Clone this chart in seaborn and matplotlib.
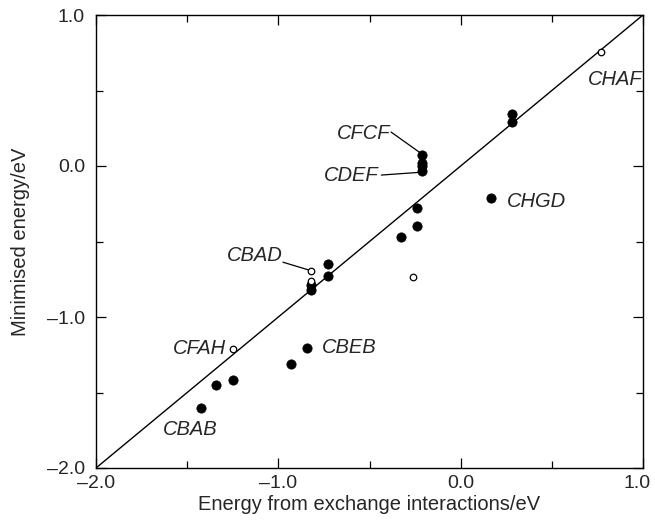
import matplotlib
matplotlib.use("Agg")
import matplotlib.pyplot as plt
import matplotlib.transforms as mtransforms
import seaborn as sns
import pandas as pd
from matplotlib.ticker import MultipleLocator, FuncFormatter

# Filled points (x: exchange-interaction energy, y: minimised energy)
filled_x = [0.28, 0.28, -0.21, -0.21, -0.21, -0.21, 0.165, -0.24, -0.24, -0.325,
            -0.73, -0.73, -0.82, -0.82, -0.845, -0.93, -1.25, -1.34, -1.425]
filled_y = [0.345, 0.29, 0.073, 0.02, 0.0, -0.035, -0.21, -0.28, -0.40, -0.47,
            -0.65, -0.73, -0.79, -0.82, -1.205, -1.31, -1.42, -1.45, -1.605]
# Open points
open_x = [0.77, -0.82, -0.82, -0.26, -1.25]
open_y = [0.757, -0.695, -0.76, -0.738, -1.213]

# Labels: text, text position (x, y), optional leader line
label_text = ["CHAF", "CFCF", "CDEF", "CHGD", "CBAD", "CFAH", "CBEB", "CBAB"]
label_x = [0.70, -0.68, -0.75, 0.255, -1.28, -1.58, -0.76, -1.635]
label_y = [0.575, 0.215, -0.06, -0.236, -0.593, -1.21, -1.2, -1.745]
leader_from = {"CFCF": (-0.382, 0.225), "CDEF": (-0.435, -0.06), "CBAD": (-0.975, -0.637)}
leader_to = {"CFCF": (-0.225, 0.09), "CDEF": (-0.225, -0.042), "CBAD": (-0.835, -0.688)}

x_ticks = [-2.0, -1.0, 0.0, 1.0]
y_ticks = [-2.0, -1.0, 0.0, 1.0]

sns.set_style("ticks")
plt.rcParams["font.family"] = ["Liberation Sans", "DejaVu Sans"]

fig = plt.figure(figsize=(6.55, 5.22), dpi=100)
ax = fig.add_axes([96 / 655, 54 / 522, 547 / 655, 453 / 522])

df_f = pd.DataFrame({"x": filled_x, "y": filled_y})
df_o = pd.DataFrame({"x": open_x, "y": open_y})

ax.axline((0, 0), slope=1, color="black", lw=1.0, zorder=1)
sns.scatterplot(data=df_f, x="x", y="y", ax=ax, color="black", s=45,
                edgecolor="black", linewidth=0.5, zorder=3)
sns.scatterplot(data=df_o, x="x", y="y", ax=ax, facecolor="white", s=22,
                edgecolor="black", linewidth=0.9, zorder=3)

for t, lx, ly in zip(label_text, label_x, label_y):
    ax.text(lx, ly, t, fontsize=14.5, style="italic", ha="left", va="center")
    if t in leader_from:
        (x0, y0), (x1, y1) = leader_from[t], leader_to[t]
        ax.plot([x0, x1], [y0, y1], color="black", lw=0.9)

fmt = FuncFormatter(lambda v, p: f"{v:.1f}".replace("-", "\u2013"))
ax.set_xlim(-2, 1)
ax.set_ylim(-2, 1)
ax.set_xticks(x_ticks)
ax.set_yticks(y_ticks)
ax.xaxis.set_minor_locator(MultipleLocator(0.5))
ax.yaxis.set_minor_locator(MultipleLocator(0.5))
ax.xaxis.set_major_formatter(fmt)
ax.yaxis.set_major_formatter(fmt)
ax.tick_params(which="both", direction="in", top=True, right=True, labelsize=14,
               width=0.9, color="black")
ax.tick_params(which="major", length=7)
ax.tick_params(which="minor", length=5)
ax.tick_params(axis="x", which="major", pad=5)
ax.tick_params(axis="y", which="major", pad=8)
for sp in ax.spines.values():
    sp.set_linewidth(1.0)
    sp.set_color("black")

# nudge the last x tick label inward so it stays inside the figure
last = ax.get_xticklabels()[-1]
last.set_transform(last.get_transform() +
                   mtransforms.ScaledTranslation(-6 / 100, 0, fig.dpi_scale_trans))

ax.set_xlabel("Energy from exchange interactions/eV", fontsize=14.5, labelpad=2)
ax.set_ylabel("Minimised energy/eV", fontsize=14.5, labelpad=12)

fig.savefig("out.png", dpi=100)
